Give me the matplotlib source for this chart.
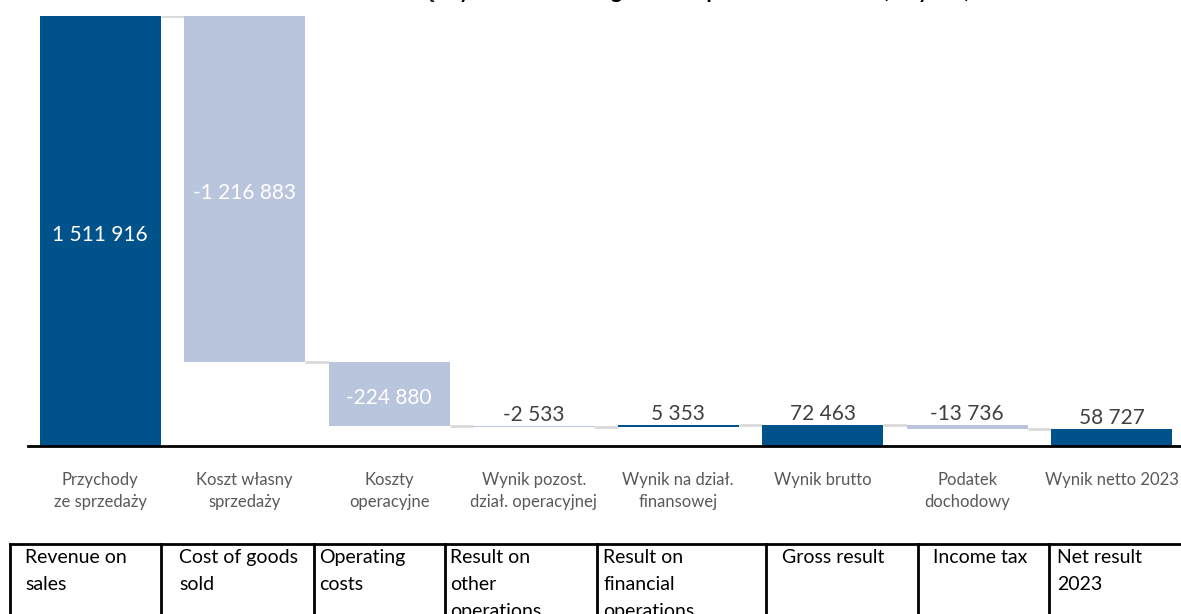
import matplotlib
matplotlib.use("Agg")
import matplotlib.pyplot as plt
import numpy as np

plt.rcParams['font.family'] = ['Lato', 'DejaVu Sans']

# dane (tys. zł)
categories_pl = ["Przychody\nze sprzedaży", "Koszt własny\nsprzedaży", "Koszty\noperacyjne",
                 "Wynik pozost.\ndział. operacyjnej", "Wynik na dział.\nfinansowej",
                 "Wynik brutto", "Podatek\ndochodowy", "Wynik netto 2023"]
values = [1511916, -1216883, -224880, -2533, 5353, 72463, -13736, 58727]
is_total = [True, False, False, False, False, True, False, True]
categories_en = ["Revenue on\nsales", "Cost of goods\nsold", "Operating\ncosts",
                 "Result on\nother\noperations", "Result on\nfinancial\noperations",
                 "Gross result", "Income tax", "Net result\n2023"]
title = "Kształtowanie się wyniku finansowego netto Spółki w 2023 roku (w tys. zł)"

dark = "#00528A"
light = "#B8C5DC"
conn = "#D9D9D9"

W, H = 1181, 614
fig = plt.figure(figsize=(W / 100, H / 100), dpi=100)

# tło w pikselach: tytuł i tabela
bg = fig.add_axes([0, 0, 1, 1])
bg.set_xlim(0, W)
bg.set_ylim(H, 0)
bg.axis("off")

# wykres kaskadowy
ax = fig.add_axes([28 / W, 168 / H, 1156 / W, 430 / H])
x = np.arange(len(values))
bottoms, heights = [], []
level = 0
for v, t in zip(values, is_total):
    if t:
        bottoms.append(0)
        level = v
    else:
        bottoms.append(level)
        level += v
    heights.append(v)
ends = [b + h for b, h in zip(bottoms, heights)]
colors = [dark if v > 0 else light for v in values]
bw = 0.835
ax.bar(x, heights, bottom=bottoms, width=bw, color=colors, zorder=2)

# łączniki
for i in range(len(values) - 1):
    lvl = ends[i]
    ax.plot([x[i] + bw / 2, x[i + 1] - bw / 2], [lvl, lvl], color=conn, lw=2, zorder=1,
            solid_capstyle="butt")

# etykiety wartości
for i, v in enumerate(values):
    txt = f"{v:,}".replace(",", " ")
    if abs(v) > 100000:
        ax.annotate(txt, (x[i], bottoms[i] + v / 2), xytext=(0, -3), textcoords="offset points",
                    ha="center", va="center", color="white", fontsize=15)
    else:
        top = max(bottoms[i], ends[i])
        ax.annotate(txt, (x[i], top), xytext=(0, 1), textcoords="offset points",
                    ha="center", va="bottom", color="#404040", fontsize=15)

ax.set_xlim(-0.5, len(values) - 0.5)
ax.set_ylim(0, values[0])
ax.set_xticks(x)
ax.set_xticklabels(categories_pl, fontsize=12, color="#595959", linespacing=1.42)
ax.tick_params(axis="x", length=0, pad=19)
ax.set_yticks([])
for s in ["top", "right", "left"]:
    ax.spines[s].set_visible(False)
ax.spines["bottom"].set_linewidth(2)
ax.spines["bottom"].set_color("black")
ax.spines["bottom"].set_zorder(3)

# tytuł (obcięty u góry)
bg.text(622, -2, title, ha="center", va="baseline", fontsize=15, fontweight="bold")

# tabela z opisami angielskimi
col_edges = [10, 161, 314, 445, 597, 766, 918, 1049, 1200]
text_x = [25, 179, 319, 450, 603, 782, 933, 1057]
table_top = 544
bg.plot([col_edges[0], col_edges[-1]], [table_top, table_top], color="black", lw=2)
for e in col_edges[:-1]:
    bg.plot([e, e], [table_top, H + 5], color="black", lw=2)
for tx, lab in zip(text_x, categories_en):
    bg.text(tx, table_top + 5, lab, ha="left", va="top", fontsize=14, color="black",
            linespacing=1.7)

fig.savefig("out.png", dpi=100)
